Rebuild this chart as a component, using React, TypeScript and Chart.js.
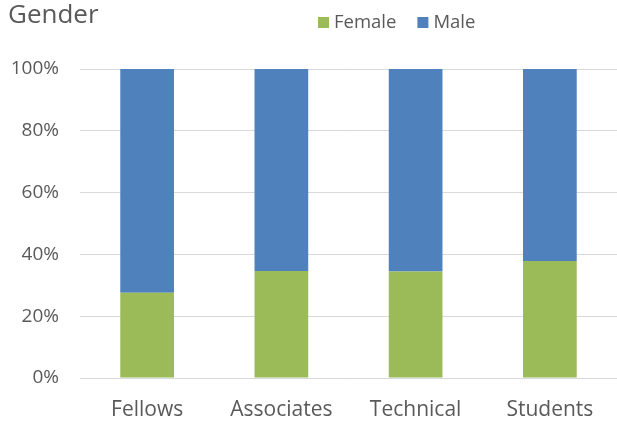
import React, { useEffect, useRef } from "react";
import { Chart, registerables } from "chart.js";

Chart.register(...registerables);

const categories = ["Fellows", "Associates", "Technical", "Students"];
const femaleValues = [27.6, 34.6, 34.5, 37.9];
const maleValues = [72.4, 65.4, 65.5, 62.1];
const yTicks = [0, 20, 40, 60, 80, 100];
const seriesNames = ["Female", "Male"];
const seriesColors = ["#9BBB59", "#4F81BD"];
const chartTitle = "Gender";

const FONT = "'Open Sans', 'Noto Sans', sans-serif";
const TEXT = "#595959";

const headerPlugin = {
  id: "header",
  afterDraw(chart: any) {
    const ctx = chart.ctx;
    ctx.save();
    // title
    ctx.font = `26px ${FONT}`;
    ctx.fillStyle = TEXT;
    ctx.textBaseline = "alphabetic";
    ctx.textAlign = "left";
    ctx.fillText(chartTitle, 8, 23);
    // legend
    ctx.font = `18.5px ${FONT}`;
    ctx.textBaseline = "middle";
    let x = 318;
    const cy = 23;
    chart.data.datasets.forEach((ds: any, i: number) => {
      ctx.fillStyle = ds.backgroundColor;
      ctx.fillRect(x, cy - 6, 11, 11);
      x += 16;
      ctx.fillStyle = TEXT;
      ctx.fillText(ds.label, x, cy);
      x += ctx.measureText(ds.label).width + 21;
    });
    ctx.restore();
  },
};

export default function App() {
  const ref = useRef<HTMLCanvasElement | null>(null);
  useEffect(() => {
    document.body.style.margin = "0";
    const chart = new Chart(ref.current!, {
      type: "bar",
      data: {
        labels: categories,
        datasets: [
          {
            label: seriesNames[0],
            data: femaleValues,
            backgroundColor: seriesColors[0],
            borderWidth: 0,
            barPercentage: 0.8,
            categoryPercentage: 0.5,
          },
          {
            label: seriesNames[1],
            data: maleValues,
            backgroundColor: seriesColors[1],
            borderWidth: 0,
            barPercentage: 0.8,
            categoryPercentage: 0.5,
          },
        ],
      },
      plugins: [headerPlugin],
      options: {
        animation: false,
        responsive: false,
        maintainAspectRatio: false,
        layout: { padding: { left: 0, right: 0, top: 69, bottom: 0 } },
        plugins: {
          title: { display: false },
          tooltip: { enabled: false },
          legend: { display: false },
        },
        scales: {
          x: {
            stacked: true,
            grid: { display: false, drawTicks: false },
            border: { display: false },
            ticks: { color: TEXT, font: { family: FONT, size: 21 }, padding: 19 },
            afterFit: (axis: any) => {
              axis.height = 44;
            },
          },
          y: {
            stacked: true,
            min: 0,
            max: 100,
            afterBuildTicks: (axis: any) => {
              axis.ticks = yTicks.map((v) => ({ value: v }));
            },
            afterFit: (axis: any) => {
              axis.width = 80;
            },
            grid: { color: "#D9D9D9", lineWidth: 1, drawTicks: false },
            border: { display: false },
            ticks: {
              color: TEXT,
              font: { family: FONT, size: 19 },
              padding: 21,
              callback: (v: any) => `${v}%`,
            },
          },
        },
      },
    });
    return () => chart.destroy();
  }, []);
  return (
    <div style={{ position: "fixed", left: 0, top: 0, width: 617, height: 422 }}>
      <canvas ref={ref} width={617} height={422} style={{ width: 617, height: 422 }} />
    </div>
  );
}
